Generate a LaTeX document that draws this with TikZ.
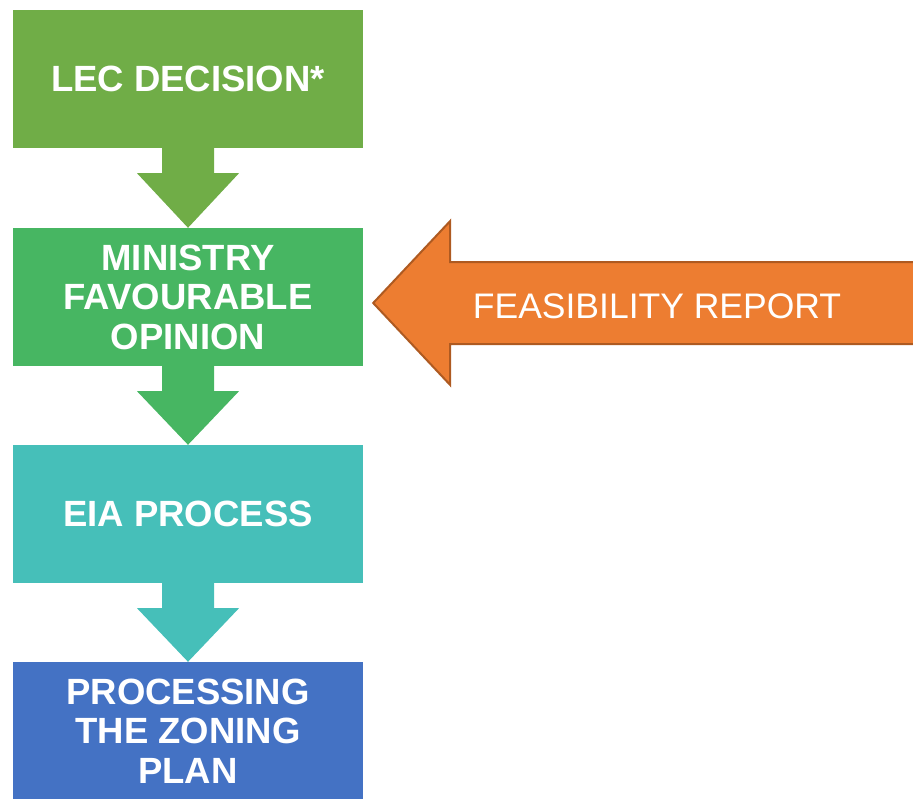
\documentclass[tikz,border=0pt]{standalone}
\usepackage{fontspec}
\setmainfont{Liberation Sans}
\usetikzlibrary{calc}

\definecolor{leafgreen}{HTML}{70AD47}
\definecolor{mintgreen}{HTML}{47B662}
\definecolor{tealbox}{HTML}{46BFB9}
\definecolor{bluebox}{HTML}{4472C4}
\definecolor{orangefill}{HTML}{ED7D31}
\definecolor{orangeedge}{HTML}{AE5A21}

\tikzset{
  stagebox/.style={rectangle, minimum width=350pt, minimum height=138pt,
    inner sep=0pt, align=center, text=white,
    font=\fontsize{36.5pt}{39.5pt}\selectfont\bfseries},
  inputlabel/.style={text=white, inner sep=0pt,
    font=\fontsize{35.5pt}{38pt}\selectfont},
  blockarrow/.style={draw=none},
  sidearrow/.style={fill=orangefill, draw=orangeedge, line width=2pt, line join=miter}
}

% block arrow from the bottom of one stage to the top of the next
\newcommand\flowdown[3]{%
  \fill[#3] ($(#1.south)+(-26,0)$) -- ($(#1.south)+(26,0)$)
    -- ($(#1.south)+(26,25)$) -- ($(#1.south)+(51,25)$)
    -- (#2.north)
    -- ($(#1.south)+(-51,25)$) -- ($(#1.south)+(-26,25)$) -- cycle;}

\begin{document}
\begin{tikzpicture}[x=1pt, y=-1pt]
  \useasboundingbox (0,0) rectangle (913,798);
  \clip (0,0) rectangle (913,798);

  % the four stages
  \node[stagebox, fill=leafgreen] (lec) at (188,79) {LEC DECISION*};
  \node[stagebox, fill=mintgreen] (ministry) at (188,297) {MINISTRY\\FAVOURABLE\\OPINION};
  \node[stagebox, fill=tealbox] (eia) at (188,514) {EIA PROCESS};
  \node[stagebox, fill=bluebox] (zoning) at (188,731) {PROCESSING\\THE ZONING\\PLAN};

  % downward flow
  \flowdown{lec}{ministry}{leafgreen}
  \flowdown{ministry}{eia}{mintgreen}
  \flowdown{eia}{zoning}{tealbox}

  % feasibility report feeding the ministry opinion
  \coordinate (tip) at ($(ministry.east)+(10,6)$);
  \coordinate (far) at (930,303);
  \draw[sidearrow] (tip) -- ($(tip)+(77,-82)$) -- ($(tip)+(77,-41)$)
    -- (far |- {$(tip)+(0,-41)$}) -- (far |- {$(tip)+(0,41)$})
    -- ($(tip)+(77,41)$) -- ($(tip)+(77,82)$) -- cycle;
  \node[inputlabel] (feas) at (657,306) {FEASIBILITY REPORT};
\end{tikzpicture}
\end{document}
